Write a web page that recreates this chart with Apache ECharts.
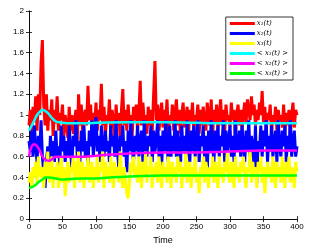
<!DOCTYPE html>
<html><head><meta charset="utf-8">
<script src="https://cdn.jsdelivr.net/npm/echarts@6/dist/echarts.min.js"></script>
<style>html,body{margin:0;padding:0;background:#fff}#c{width:316px;height:250px}</style>
</head><body><div id="c"></div>
<script>
const x1 = [0.9,1.05,0.82,1.08,0.95,1.18,0.85,1.2,1.0,1.5,
1.72,1.1,0.9,1.2,0.85,1.05,0.95,1.15,0.8,1.05,
0.92,1.18,0.85,1.02,0.95,1.1,0.8,1.0,0.9,0.78,
1.08,0.85,1.0,0.82,0.95,1.05,0.75,1.2,0.9,1.1,
0.85,1.0,1.05,0.9,1.28,0.95,1.1,0.82,1.02,0.9,
1.12,0.85,1.05,0.95,1.3,0.9,1.08,0.8,1.0,0.92,
1.15,0.85,1.05,0.95,0.78,1.1,0.9,1.02,0.8,1.05,
1.25,0.9,1.05,0.85,1.1,0.92,1.0,0.8,1.08,0.95,
1.1,0.85,1.02,1.33,0.9,1.12,0.95,1.0,0.82,1.08,
0.9,1.05,0.85,1.2,1.52,0.95,1.1,0.85,1.0,1.12,
0.88,1.05,0.95,1.15,0.8,1.0,0.92,1.1,0.85,1.02,
1.15,0.9,1.05,0.82,1.0,1.12,0.88,0.95,1.08,0.8,
1.05,0.92,1.12,0.85,1.0,0.95,1.1,0.82,1.05,0.9,
1.08,0.95,0.85,1.12,1.0,0.9,1.15,0.8,1.05,0.92,
1.1,0.85,1.0,1.15,0.9,1.05,0.82,1.1,0.95,1.0,
0.88,1.12,0.95,1.05,0.8,1.0,1.1,0.9,1.05,0.85,
1.02,1.12,0.92,1.15,1.05,0.95,1.18,1.0,1.1,0.9,
1.05,0.95,1.12,1.0,1.23,0.92,1.08,0.85,1.02,0.95,
1.1,0.82,1.0,0.92,1.08,0.85,1.05,0.95,1.0,0.88,
1.1,0.85,1.02,0.9,1.05,0.8,1.0,1.12,0.88,1.05,
1.0];
const x2 = [0.75,0.65,0.85,0.6,0.9,0.7,0.55,0.8,0.65,0.95,
0.6,0.45,0.3,0.55,0.7,0.5,0.8,0.6,0.75,0.55,
0.85,0.6,0.7,0.5,0.9,0.65,0.8,0.55,0.75,0.6,
0.9,0.65,0.5,0.8,0.7,0.95,0.6,0.75,0.55,0.85,
0.65,0.9,0.6,0.75,0.5,0.85,0.7,0.95,0.6,0.8,
0.98,0.65,0.8,0.55,0.9,0.7,0.6,0.85,0.65,0.75,
0.55,0.9,0.7,0.8,0.6,0.95,0.65,0.5,0.8,0.7,
0.9,0.6,0.75,0.45,0.85,0.65,0.95,0.7,0.55,0.8,
0.65,0.9,0.6,0.75,0.85,0.55,0.95,0.7,0.6,0.8,
0.7,0.9,0.55,0.85,0.65,0.75,0.95,0.6,0.8,0.5,
0.85,0.65,0.95,0.7,0.55,0.9,0.6,0.8,0.65,0.95,
0.6,0.85,0.7,0.5,0.9,0.65,0.8,0.6,0.95,0.7,
0.55,0.85,0.65,0.9,0.6,0.75,0.95,0.55,0.8,0.7,
0.9,0.6,0.8,0.45,0.85,0.65,0.95,0.7,0.55,0.85,
0.65,0.9,0.6,0.8,0.7,0.95,0.55,0.85,0.65,0.75,
0.9,0.6,0.8,0.55,0.95,0.7,0.65,0.85,0.6,0.9,
0.7,0.55,0.85,0.65,0.95,0.6,0.8,0.7,0.5,0.9,
0.35,0.75,0.65,0.9,0.6,0.85,0.7,0.95,0.55,0.8,
0.65,0.9,0.6,0.75,0.85,0.55,0.95,0.7,0.6,0.85,
0.7,0.9,0.55,0.8,0.65,0.95,0.6,0.75,0.85,0.6,
0.7];
const x3 = [0.35,0.45,0.3,0.5,0.4,0.55,0.35,0.6,0.45,0.4,
0.5,0.3,0.55,0.4,0.65,0.35,0.45,0.6,0.3,0.5,
0.4,0.55,0.3,0.45,0.6,0.35,0.5,0.22,0.4,0.55,
0.35,0.5,0.45,0.6,0.3,0.55,0.4,0.65,0.35,0.45,
0.55,0.3,0.5,0.4,0.6,0.35,0.45,0.55,0.3,0.5,
0.4,0.6,0.35,0.5,0.45,0.65,0.3,0.55,0.4,0.5,
0.35,0.6,0.45,0.3,0.55,0.4,0.5,0.35,0.65,0.45,
0.3,0.5,0.4,0.25,0.2,0.35,0.55,0.45,0.6,0.4,
0.5,0.35,0.6,0.45,0.3,0.55,0.4,0.65,0.35,0.5,
0.45,0.6,0.3,0.5,0.4,0.55,0.35,0.6,0.45,0.3,
0.55,0.4,0.5,0.35,0.6,0.45,0.3,0.55,0.4,0.5,
0.35,0.6,0.45,0.55,0.3,0.5,0.4,0.65,0.35,0.45,
0.55,0.3,0.5,0.4,0.6,0.35,0.45,0.25,0.5,0.4,
0.6,0.35,0.55,0.45,0.3,0.5,0.4,0.6,0.35,0.55,
0.45,0.3,0.6,0.4,0.5,0.35,0.55,0.45,0.65,0.4,
0.35,0.55,0.45,0.3,0.6,0.4,0.5,0.35,0.55,0.45,
0.6,0.4,0.3,0.5,0.45,0.65,0.35,0.55,0.4,0.5,
0.3,0.55,0.45,0.6,0.35,0.5,0.25,0.45,0.55,0.4,
0.5,0.35,0.6,0.45,0.3,0.55,0.4,0.5,0.35,0.6,
0.45,0.3,0.55,0.4,0.6,0.35,0.5,0.45,0.3,0.55,
0.45];
const m1T = [0,4,8,12,16,20,24,28,32,36,40,45,50,60,80,100,150,200,250,300,350,400];
const m1 = [0.85,0.9,0.95,1.0,1.03,1.05,1.04,1.02,0.99,0.96,0.94,0.93,0.925,0.92,0.92,0.925,0.93,0.93,0.925,0.92,0.92,0.92];
const m2T = [0,4,8,12,16,20,25,30,35,40,50,60,80,100,120,150,200,250,300,350,400];
const m2 = [0.6,0.7,0.72,0.7,0.66,0.6,0.57,0.56,0.58,0.6,0.6,0.6,0.6,0.61,0.62,0.63,0.64,0.64,0.65,0.66,0.66];
const m3T = [0,5,10,15,20,25,30,40,50,60,80,100,120,150,200,250,300,350,400];
const m3 = [0.3,0.31,0.33,0.36,0.38,0.4,0.4,0.39,0.38,0.385,0.39,0.39,0.4,0.41,0.42,0.42,0.42,0.42,0.42];
const names = ['x\u2081(t)','x\u2082(t)','x\u2083(t)','< x\u2081(t) >','< x\u2082(t) >','< x\u2083(t) >'];
const colors = ['#ff0000','#0000ff','#ffff00','#00ffff','#ff00ff','#00ff00'];

function even(arr){const s=400/(arr.length-1);return arr.map((v,i)=>[i*s,v]);}
function pair(t,v){return t.map((x,i)=>[x,v[i]]);}
const data = [even(x1),even(x2),even(x3),pair(m1T,m1),pair(m2T,m2),pair(m3T,m3)];

const chart = echarts.init(document.getElementById('c'));
const axLine = {show:true,lineStyle:{color:'#000',width:0.8}};
const tick = {inside:true,length:3,lineStyle:{color:'#000',width:0.8}};
chart.setOption({
  animation:false,
  grid:{left:29,right:19,top:11,bottom:28},
  legend:{
    data:names, orient:'vertical', right:23, top:17, itemWidth:25, itemHeight:3, itemGap:3,
    icon:'rect', backgroundColor:'#fff', borderColor:'#000', borderWidth:0.8, padding:[3,5,3,4],
    textStyle:{fontFamily:'DejaVu Serif', fontStyle:'italic', fontSize:7, color:'#000', padding:[0,0,0,-3]}
  },
  xAxis:[{type:'value',min:0,max:400,interval:50,name:'Time',nameLocation:'middle',nameGap:15,
    nameTextStyle:{fontFamily:'Liberation Sans',fontSize:9,color:'#000'},
    axisLine:axLine,axisTick:tick,
    axisLabel:{fontFamily:'Liberation Sans',fontSize:8,color:'#000',margin:4},splitLine:{show:false}},
    {type:'value',min:0,max:400,interval:50,position:'top',axisLine:axLine,
    axisTick:tick,axisLabel:{show:false},splitLine:{show:false}}],
  yAxis:[{type:'value',min:0,max:2,interval:0.2,axisLine:axLine,axisTick:tick,
    axisLabel:{fontFamily:'Liberation Sans',fontSize:8,color:'#000',margin:5},splitLine:{show:false}},
    {type:'value',min:0,max:2,interval:0.2,position:'right',axisLine:axLine,
    axisTick:tick,axisLabel:{show:false},splitLine:{show:false}}],
  series: names.map((n,i)=>({
    name:n,type:'line',data:data[i],showSymbol:false,smooth:i>=3,
    lineStyle:{color:colors[i],width:i>=3?2.5:3},itemStyle:{color:colors[i]},z:2+i
  }))
});
</script></body></html>
